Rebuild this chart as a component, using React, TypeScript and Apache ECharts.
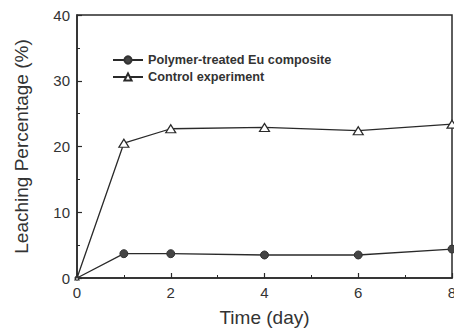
import React, { useEffect, useRef } from "react";
import * as echarts from "echarts";

const days = [0, 1, 2, 4, 6, 8];
const polymerValues = [0, 3.7, 3.7, 3.5, 3.5, 4.4];
const controlValues = [0, 20.5, 22.7, 22.9, 22.4, 23.4];
const seriesNames = ["Polymer-treated Eu composite", "Control experiment"];
const xTitle = "Time (day)";
const yTitle = "Leaching Percentage (%)";

export default function App() {
  const ref = useRef<HTMLDivElement>(null);
  useEffect(() => {
    document.body.style.margin = "0";
    const chart = echarts.init(ref.current!, null, { renderer: "svg" });
    const ink = "#2a2a2a";
    const font = "'Liberation Sans', Arial, sans-serif";
    const axisCommon = {
      axisLine: { show: true, lineStyle: { color: ink, width: 1.5 } },
      axisTick: { show: true, inside: true, length: 5, lineStyle: { color: ink, width: 1.2 } },
      minorTick: { show: true, splitNumber: 2, length: 3, lineStyle: { color: ink, width: 1 } },
      splitLine: { show: false },
      axisLabel: { color: "#333", fontSize: 15, fontFamily: font, margin: 7 },
      nameTextStyle: { color: "#333", fontSize: 19, fontFamily: font },
    };
    const pt = (vals: number[]) =>
      days.map((d, i) =>
        i === 0 ? { value: [d, vals[i]], symbolSize: 4 } : { value: [d, vals[i]] }
      );
    chart.setOption({
      animation: false,
      backgroundColor: "#fff",
      grid: {
        left: 77,
        right: 2,
        top: 15,
        bottom: 57,
        outerBoundsMode: "none",
        containLabel: false,
        show: true,
        borderColor: ink,
        borderWidth: 1.5,
      },
      legend: {
        orient: "vertical",
        left: 107,
        top: 48,
        itemWidth: 30,
        itemHeight: 9,
        itemGap: 3,
        textStyle: { color: "#333", fontSize: 12.7, lineHeight: 14, fontWeight: "bold", fontFamily: font },
        data: seriesNames,
      },
      xAxis: {
        type: "value",
        min: 0,
        max: 8,
        interval: 2,
        name: xTitle,
        nameLocation: "middle",
        nameGap: 30,
        ...axisCommon,
      },
      yAxis: {
        type: "value",
        min: 0,
        max: 40,
        interval: 10,
        name: yTitle,
        nameLocation: "middle",
        nameGap: 46,
        ...axisCommon,
      },
      series: [
        {
          name: seriesNames[0],
          type: "line",
          data: pt(polymerValues),
          symbol: "circle",
          symbolSize: 8,
          itemStyle: { color: "#444", borderColor: "#333", borderWidth: 1 },
          lineStyle: { color: ink, width: 1.3 },
        },
        {
          name: seriesNames[1],
          type: "line",
          data: pt(controlValues),
          symbol: "triangle",
          symbolSize: [10, 8],
          itemStyle: { color: "#fff", borderColor: ink, borderWidth: 1.2 },
          lineStyle: { color: ink, width: 1.3 },
        },
      ],
    });
    return () => chart.dispose();
  }, []);
  return <div ref={ref} style={{ width: 454, height: 335 }} />;
}
